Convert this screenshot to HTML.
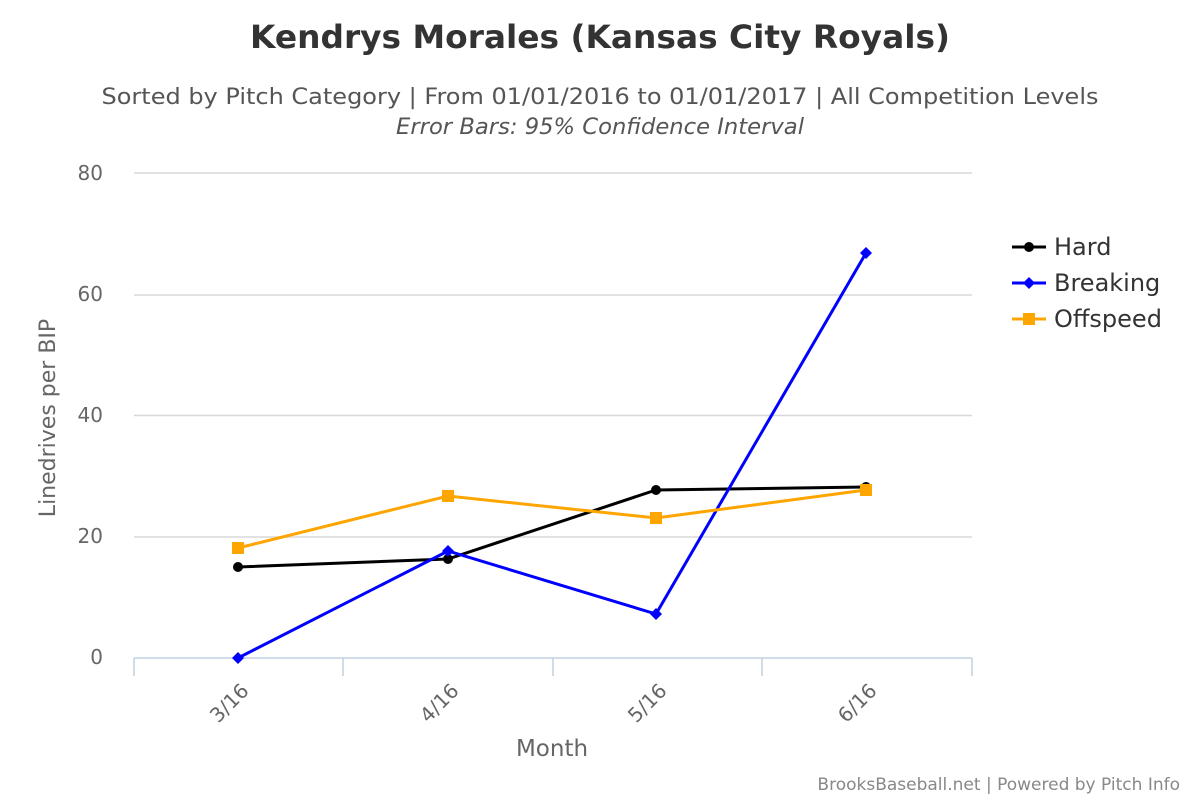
<!DOCTYPE html>
<html><head><style>
body{margin:0;background:#fff;}
svg{display:block;font-family:"DejaVu Sans",sans-serif;}
</style></head><body>
<svg width="1200" height="800" xmlns="http://www.w3.org/2000/svg">
<rect width="1200" height="800" fill="#fff"/>
<text x="600" y="48" text-anchor="middle" font-size="32" font-weight="bold" fill="#333" textLength="700" lengthAdjust="spacingAndGlyphs">Kendrys Morales (Kansas City Royals)</text>
<text x="600" y="104" text-anchor="middle" font-size="22" fill="#555" textLength="997" lengthAdjust="spacingAndGlyphs">Sorted by Pitch Category | From 01/01/2016 to 01/01/2017 | All Competition Levels</text>
<text x="600" y="134" text-anchor="middle" font-size="22" font-style="italic" fill="#555" textLength="408" lengthAdjust="spacingAndGlyphs">Error Bars: 95% Confidence Interval</text>
<g stroke="#d8d8d8" stroke-width="1.5">
<line x1="134" y1="173" x2="972" y2="173"/>
<line x1="134" y1="295" x2="972" y2="295"/>
<line x1="134" y1="415.5" x2="972" y2="415.5"/>
<line x1="134" y1="537" x2="972" y2="537"/>
</g>
<g stroke="#c0d0e0" stroke-width="1.5">
<line x1="134" y1="658" x2="972" y2="658"/>
<line x1="134" y1="658" x2="134" y2="676"/>
<line x1="343" y1="658" x2="343" y2="676"/>
<line x1="553" y1="658" x2="553" y2="676"/>
<line x1="762" y1="658" x2="762" y2="676"/>
<line x1="972" y1="658" x2="972" y2="676"/>
</g>
<g font-size="20" fill="#666" text-anchor="end">
<text x="103" y="180">80</text>
<text x="103" y="301">60</text>
<text x="103" y="422">40</text>
<text x="103" y="543">20</text>
<text x="103" y="664">0</text>
</g>
<text transform="translate(55,418) rotate(-90)" text-anchor="middle" font-size="22" fill="#666">Linedrives per BIP</text>
<g font-size="20" fill="#666" text-anchor="end">
<text transform="translate(250,692) rotate(-45)">3/16</text>
<text transform="translate(460,692) rotate(-45)">4/16</text>
<text transform="translate(668,692) rotate(-45)">5/16</text>
<text transform="translate(878,692) rotate(-45)">6/16</text>
</g>
<text x="552" y="756" text-anchor="middle" font-size="23" fill="#666">Month</text>
<polyline points="238,567 448,559 656,490 866,487" fill="none" stroke="#000" stroke-width="3"/>
<g fill="#000"><circle cx="238" cy="567" r="5"/><circle cx="448" cy="559" r="5"/><circle cx="656" cy="490" r="5"/><circle cx="866" cy="487" r="5"/></g>
<polyline points="238,658 448,551 656,614 866,253" fill="none" stroke="#0000ff" stroke-width="3"/>
<g fill="#0000ff">
<path d="M238,652 l6,6 l-6,6 l-6,-6z"/><path d="M448,545 l6,6 l-6,6 l-6,-6z"/><path d="M656,608 l6,6 l-6,6 l-6,-6z"/><path d="M866,247 l6,6 l-6,6 l-6,-6z"/>
</g>
<polyline points="238,548 448,496 656,518 866,490" fill="none" stroke="#ffa500" stroke-width="3"/>
<g fill="#ffa500">
<rect x="232" y="542" width="12" height="12"/><rect x="442" y="490" width="12" height="12"/><rect x="650" y="512" width="12" height="12"/><rect x="860" y="484" width="12" height="12"/>
</g>
<g font-size="24" fill="#333">
<line x1="1012" y1="247" x2="1046" y2="247" stroke="#000" stroke-width="3"/><circle cx="1029" cy="247" r="5" fill="#000"/>
<text x="1054" y="255">Hard</text>
<line x1="1012" y1="283" x2="1046" y2="283" stroke="#0000ff" stroke-width="3"/><path d="M1029,277 l6,6 l-6,6 l-6,-6z" fill="#0000ff"/>
<text x="1054" y="291">Breaking</text>
<line x1="1012" y1="319" x2="1046" y2="319" stroke="#ffa500" stroke-width="3"/><rect x="1023" y="313" width="12" height="12" fill="#ffa500"/>
<text x="1054" y="327">Offspeed</text>
</g>
<text x="1180" y="790" text-anchor="end" font-size="17" fill="#888">BrooksBaseball.net | Powered by Pitch Info</text>
</svg>
</body></html>
